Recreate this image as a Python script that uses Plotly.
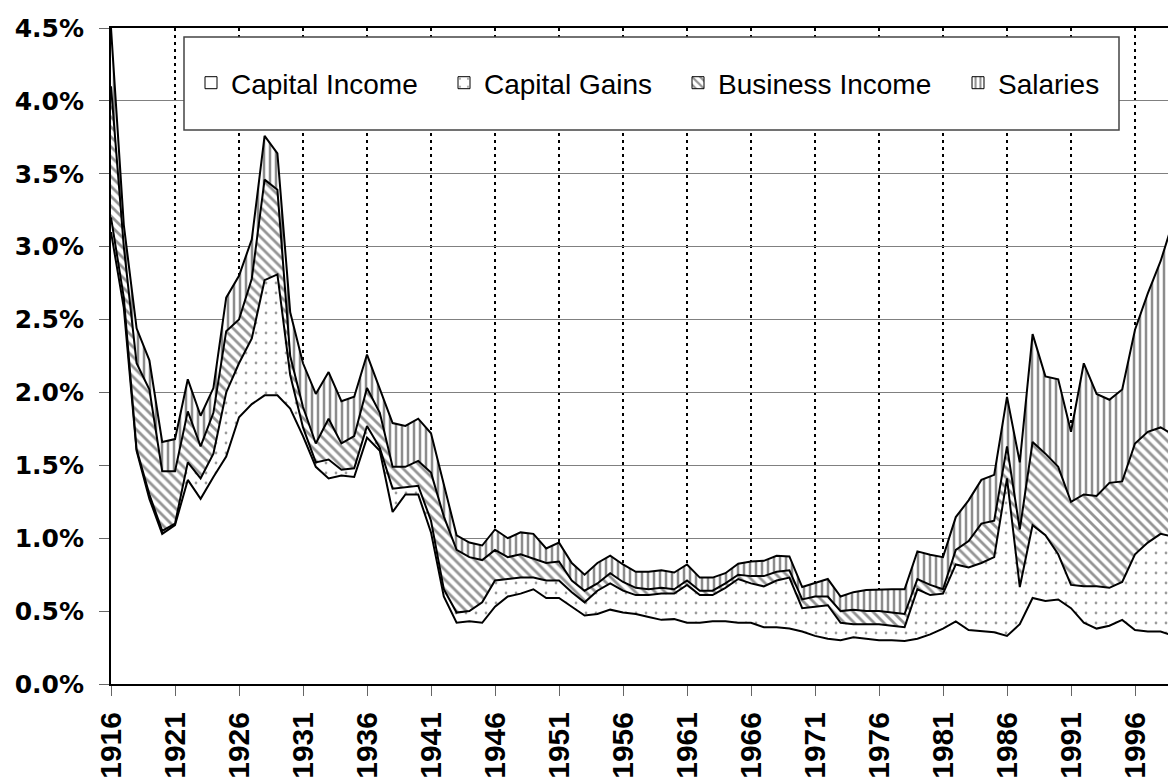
import plotly.graph_objects as go

years = list(range(1916, 2000))

# Upper boundary of each stacked band (% of income)
capital_income_top = [3.10, 2.58, 1.60, 1.27, 1.03, 1.09, 1.40, 1.27, 1.42, 1.56,
                      1.83, 1.92, 1.98, 1.98, 1.89, 1.70, 1.49, 1.41, 1.43, 1.42,
                      1.69, 1.60, 1.18, 1.30, 1.30, 1.04, 0.60, 0.42, 0.43, 0.42,
                      0.53, 0.60, 0.62, 0.65, 0.59, 0.59, 0.53, 0.47, 0.48, 0.51,
                      0.49, 0.48, 0.46, 0.44, 0.445, 0.42, 0.42, 0.43, 0.43, 0.42,
                      0.42, 0.39, 0.39, 0.38, 0.36, 0.33, 0.31, 0.30, 0.32, 0.31,
                      0.30, 0.30, 0.295, 0.31, 0.34, 0.38, 0.43, 0.37, 0.36, 0.355,
                      0.33, 0.41, 0.59, 0.57, 0.58, 0.52, 0.42, 0.38, 0.40, 0.44,
                      0.37, 0.36, 0.36, 0.33]
capital_gains_top = [3.20, 2.65, 1.61, 1.30, 1.05, 1.10, 1.52, 1.41, 1.58, 2.00,
                     2.20, 2.37, 2.77, 2.81, 2.12, 1.76, 1.52, 1.54, 1.47, 1.48,
                     1.77, 1.62, 1.34, 1.35, 1.36, 1.12, 0.65, 0.49, 0.50, 0.56,
                     0.71, 0.72, 0.73, 0.73, 0.71, 0.71, 0.63, 0.56, 0.64, 0.69,
                     0.64, 0.61, 0.61, 0.62, 0.62, 0.68, 0.61, 0.61, 0.66, 0.72,
                     0.69, 0.67, 0.71, 0.73, 0.52, 0.53, 0.54, 0.42, 0.41, 0.41,
                     0.41, 0.40, 0.39, 0.65, 0.61, 0.62, 0.82, 0.80, 0.83, 0.87,
                     1.41, 0.665, 1.09, 1.02, 0.89, 0.68, 0.67, 0.67, 0.66, 0.70,
                     0.89, 0.97, 1.03, 1.01]
business_income_top = [4.10, 3.00, 2.20, 2.02, 1.46, 1.46, 1.87, 1.63, 1.86, 2.42,
                       2.50, 2.78, 3.46, 3.39, 2.25, 1.90, 1.65, 1.82, 1.65, 1.70,
                       2.03, 1.86, 1.49, 1.49, 1.53, 1.45, 1.15, 0.92, 0.87, 0.85,
                       0.92, 0.87, 0.89, 0.86, 0.83, 0.84, 0.71, 0.64, 0.69, 0.76,
                       0.70, 0.66, 0.65, 0.66, 0.65, 0.71, 0.64, 0.64, 0.69, 0.75,
                       0.74, 0.74, 0.77, 0.78, 0.58, 0.60, 0.60, 0.50, 0.51, 0.50,
                       0.50, 0.49, 0.48, 0.72, 0.68, 0.65, 0.92, 0.98, 1.10, 1.12,
                       1.63, 1.06, 1.66, 1.58, 1.49, 1.25, 1.30, 1.29, 1.38, 1.39,
                       1.65, 1.73, 1.76, 1.71]
salaries_top = [4.50, 3.15, 2.44, 2.22, 1.66, 1.68, 2.09, 1.84, 2.03, 2.65,
                2.80, 3.05, 3.76, 3.64, 2.55, 2.20, 1.99, 2.14, 1.94, 1.97,
                2.26, 2.03, 1.79, 1.77, 1.82, 1.72, 1.37, 1.02, 0.97, 0.95,
                1.06, 1.00, 1.04, 1.03, 0.93, 0.97, 0.83, 0.75, 0.83, 0.88,
                0.82, 0.77, 0.77, 0.78, 0.765, 0.82, 0.73, 0.73, 0.76, 0.825,
                0.84, 0.845, 0.88, 0.875, 0.665, 0.69, 0.72, 0.60, 0.63, 0.645,
                0.65, 0.65, 0.65, 0.91, 0.887, 0.87, 1.145, 1.26, 1.40, 1.435,
                1.97, 1.52, 2.40, 2.11, 2.09, 1.73, 2.20, 1.99, 1.95, 2.02,
                2.43, 2.68, 2.90, 3.18]

series_names = ["Capital Income", "Capital Gains", "Business Income", "Salaries"]
tick_years = list(range(1916, 1997, 5))
y_ticks = [0.0, 0.5, 1.0, 1.5, 2.0, 2.5, 3.0, 3.5, 4.0, 4.5]

patterns = [
    None,
    dict(shape=".", size=10, solidity=0.06, fgcolor="#3a3a3a", bgcolor="white"),
    dict(shape="\\", size=7, solidity=0.4, fgcolor="#2a2a2a", bgcolor="white"),
    dict(shape="|", size=6, solidity=0.42, fgcolor="#1a1a1a", bgcolor="white"),
]
tops = [capital_income_top, capital_gains_top, business_income_top, salaries_top]

fig = go.Figure()
for i, (name, top) in enumerate(zip(series_names, tops)):
    kw = dict(x=years, y=top, mode="lines", name=name, showlegend=False,
              line=dict(color="black", width=2), hoverinfo="skip")
    if i == 0:
        kw.update(fill="tozeroy", fillcolor="white")
    else:
        kw.update(fill="tonexty", fillcolor="white", fillpattern=patterns[i])
    fig.add_trace(go.Scatter(**kw))

# legend entries (one legend per entry for precise placement)
legend_ids = ["legend", "legend2", "legend3", "legend4"]
text_starts = [232, 485, 719, 999]
for i, name in enumerate(series_names):
    marker = dict(color="white", line=dict(color="black", width=1))
    if patterns[i] is not None:
        marker["pattern"] = patterns[i]
    fig.add_trace(go.Bar(x=[None], y=[None], name=name, marker=marker,
                         legend=legend_ids[i], showlegend=True, hoverinfo="skip"))

# the page body has an 8px margin; the figure is sized so the plot area
# lands at x 111..1176, y 28..684 of the window
OFF = 8
W, H = 1176 - OFF, 780 - OFF
PL, PT, PB = 111, 28, 684          # plot area edges in window pixels
L, T = PL - OFF, PT - OFF
B = 780 - PB
R = 0
plot_w = W - L - R
plot_h = H - T - B

def px_x(px):
    return (px - PL) / plot_w

def px_y(py):
    return (PB - py) / plot_h

legend_font = dict(family="Liberation Sans, Arial", size=28, color="black")
layout_legends = {}
for i, lid in enumerate(legend_ids):
    layout_legends[lid] = dict(
        x=(text_starts[i] - 49) / W, xref="container", xanchor="left",
        y=1 - 75 / H, yref="container", yanchor="middle",
        orientation="h", bgcolor="rgba(0,0,0,0)", borderwidth=0,
        font=legend_font, itemclick=False, itemdoubleclick=False,
    )

fig.update_layout(
    width=W, height=H,
    margin=dict(l=L, r=R, t=T, b=B, pad=0, autoexpand=False),
    paper_bgcolor="white", plot_bgcolor="white",
    showlegend=True,
    **layout_legends,
    shapes=[dict(type="rect", xref="paper", yref="paper",
                 x0=px_x(184), x1=px_x(1119), y0=px_y(130), y1=px_y(37),
                 fillcolor="white", line=dict(color="#444444", width=1.5),
                 layer="above")],
)

fig.update_xaxes(
    range=[1916, 1916 + plot_w / 12.8],
    tickmode="array", tickvals=tick_years, ticktext=[str(y) for y in tick_years],
    tickangle=-90, automargin=False, ticklabelstandoff=4,
    tickfont=dict(family="Liberation Sans, Arial", size=30, color="black", weight="bold"),
    showline=True, linecolor="black", linewidth=2, mirror=True,
    ticks="outside", ticklen=10, tickcolor="#666666", tickwidth=1,
    showgrid=True, gridcolor="black", gridwidth=2, griddash="3px,4px",
    zeroline=False, fixedrange=True,
)
fig.update_yaxes(
    range=[0, 4.5], automargin=False, ticklabelstandoff=10,
    tickmode="array", tickvals=y_ticks,
    ticktext=[f"{v:.1f}%" for v in y_ticks],
    tickfont=dict(family="DejaVu Sans", size=25, color="black", weight="bold"),
    showline=True, linecolor="black", linewidth=2,
    ticks="outside", ticklen=10, tickcolor="#666666", tickwidth=1,
    showgrid=True, gridcolor="#808080", gridwidth=1,
    zeroline=False, fixedrange=True,
)

fig.write_html("out.html")
